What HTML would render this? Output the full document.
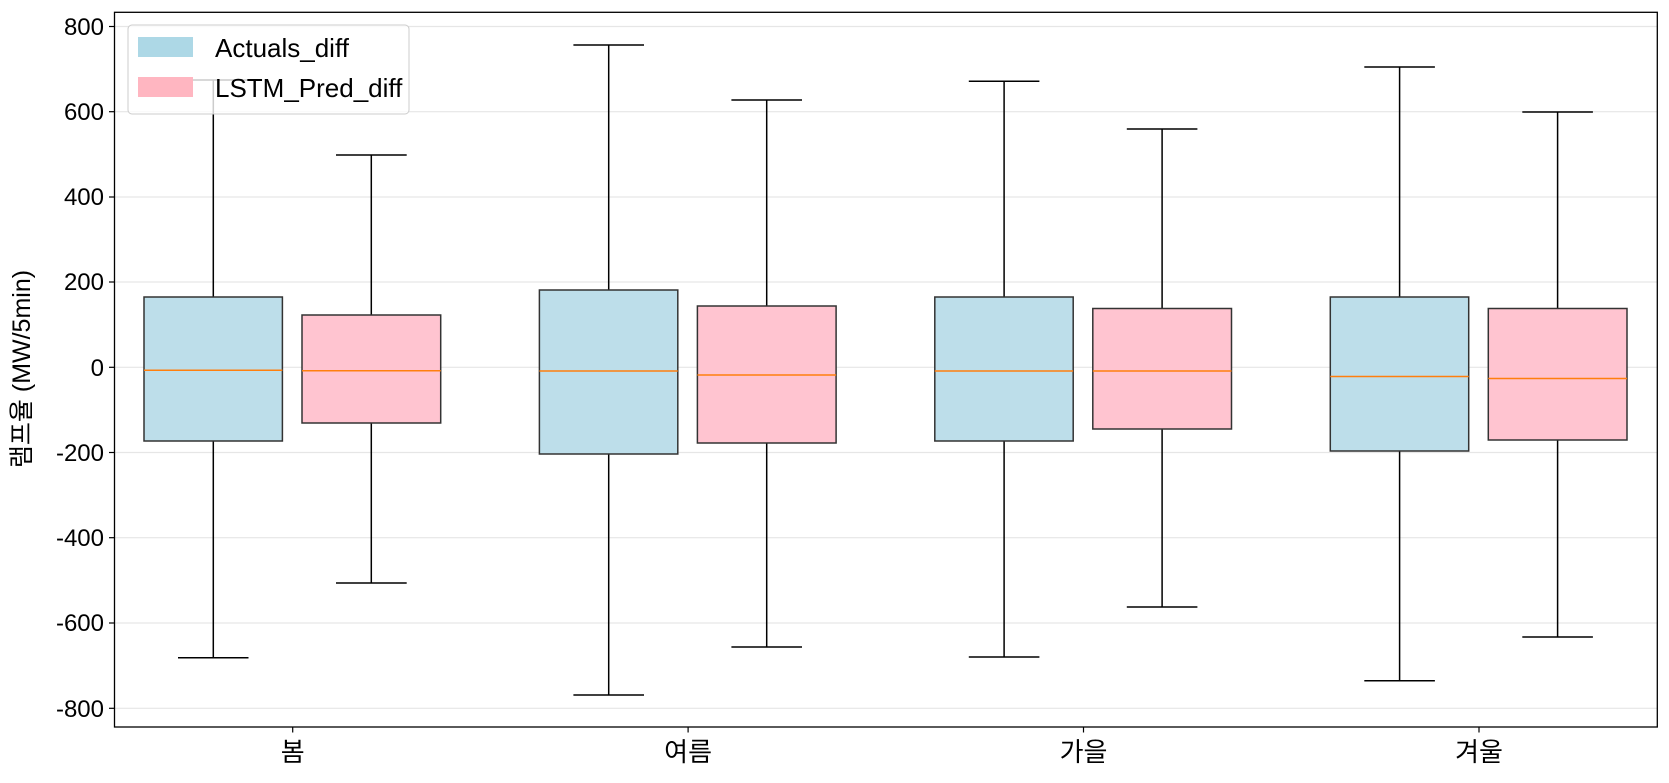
<!DOCTYPE html>
<html><head><meta charset="utf-8"><style>body{margin:0;background:#fff}</style></head><body>
<svg width="1669" height="778" xmlns="http://www.w3.org/2000/svg" font-family="'Liberation Sans','Noto Sans CJK KR',sans-serif">
<rect width="1669" height="778" fill="#fff"/>
<g stroke="#e6e6e6" stroke-width="1.2">
<line x1="115" x2="1657" y1="26.5" y2="26.5"/><line x1="115" x2="1657" y1="111.7" y2="111.7"/>
<line x1="115" x2="1657" y1="197" y2="197"/><line x1="115" x2="1657" y1="282" y2="282"/>
<line x1="115" x2="1657" y1="367.3" y2="367.3"/><line x1="115" x2="1657" y1="452.5" y2="452.5"/>
<line x1="115" x2="1657" y1="537.7" y2="537.7"/><line x1="115" x2="1657" y1="623" y2="623"/>
<line x1="115" x2="1657" y1="708.3" y2="708.3"/>
</g>
<g stroke="#000" stroke-width="1.5" fill="none">
<line x1="213.3" x2="213.3" y1="80" y2="297"/><line x1="213.3" x2="213.3" y1="441" y2="657.7"/>
<line x1="178" x2="248.5" y1="657.7" y2="657.7"/><line x1="178" x2="248.5" y1="80" y2="80"/>
<line x1="371.3" x2="371.3" y1="155" y2="315"/><line x1="371.3" x2="371.3" y1="423" y2="583"/>
<line x1="336" x2="406.7" y1="155" y2="155"/><line x1="336" x2="406.7" y1="583" y2="583"/>
<line x1="608.7" x2="608.7" y1="45" y2="290"/><line x1="608.7" x2="608.7" y1="454" y2="695"/>
<line x1="573.4" x2="644" y1="45" y2="45"/><line x1="573.4" x2="644" y1="695" y2="695"/>
<line x1="766.7" x2="766.7" y1="100" y2="306"/><line x1="766.7" x2="766.7" y1="443" y2="647"/>
<line x1="731.4" x2="802" y1="100" y2="100"/><line x1="731.4" x2="802" y1="647" y2="647"/>
<line x1="1004.1" x2="1004.1" y1="81.3" y2="297"/><line x1="1004.1" x2="1004.1" y1="441" y2="657"/>
<line x1="968.8" x2="1039.4" y1="81.3" y2="81.3"/><line x1="968.8" x2="1039.4" y1="657" y2="657"/>
<line x1="1162.1" x2="1162.1" y1="129" y2="308.5"/><line x1="1162.1" x2="1162.1" y1="429" y2="607"/>
<line x1="1126.8" x2="1197.4" y1="129" y2="129"/><line x1="1126.8" x2="1197.4" y1="607" y2="607"/>
<line x1="1399.6" x2="1399.6" y1="67" y2="297"/><line x1="1399.6" x2="1399.6" y1="451" y2="680.7"/>
<line x1="1364.3" x2="1434.9" y1="67" y2="67"/><line x1="1364.3" x2="1434.9" y1="680.7" y2="680.7"/>
<line x1="1557.6" x2="1557.6" y1="112" y2="308.5"/><line x1="1557.6" x2="1557.6" y1="440" y2="637"/>
<line x1="1522.3" x2="1592.9" y1="112" y2="112"/><line x1="1522.3" x2="1592.9" y1="637" y2="637"/>
</g>
<g stroke="#333" stroke-width="1.5">
<rect x="144" y="297" width="138.4" height="144" fill="#bddeea"/>
<rect x="302" y="315" width="138.7" height="108" fill="#ffc4d0"/>
<rect x="539.4" y="290" width="138.4" height="164" fill="#bddeea"/>
<rect x="697.4" y="306" width="138.7" height="137" fill="#ffc4d0"/>
<rect x="934.8" y="297" width="138.4" height="144" fill="#bddeea"/>
<rect x="1092.8" y="308.5" width="138.7" height="120.5" fill="#ffc4d0"/>
<rect x="1330.3" y="297" width="138.4" height="154" fill="#bddeea"/>
<rect x="1488.3" y="308.5" width="138.7" height="131.5" fill="#ffc4d0"/>
</g>
<g stroke="#ff7f0e" stroke-width="1.5">
<line x1="144" x2="282.4" y1="370.3" y2="370.3"/><line x1="302" x2="440.7" y1="370.7" y2="370.7"/>
<line x1="539.4" x2="677.8" y1="371" y2="371"/><line x1="697.4" x2="836.1" y1="375" y2="375"/>
<line x1="934.8" x2="1073.2" y1="371" y2="371"/><line x1="1092.8" x2="1231.5" y1="371" y2="371"/>
<line x1="1330.3" x2="1468.7" y1="376.5" y2="376.5"/><line x1="1488.3" x2="1627" y1="378.5" y2="378.5"/>
</g>
<rect x="114.5" y="12.3" width="1542.8" height="714.7" fill="none" stroke="#000" stroke-width="1.3"/>
<g stroke="#000" stroke-width="1.2">
<line x1="109" x2="114.5" y1="26.5" y2="26.5"/><line x1="109" x2="114.5" y1="111.7" y2="111.7"/>
<line x1="109" x2="114.5" y1="197" y2="197"/><line x1="109" x2="114.5" y1="282" y2="282"/>
<line x1="109" x2="114.5" y1="367.3" y2="367.3"/><line x1="109" x2="114.5" y1="452.5" y2="452.5"/>
<line x1="109" x2="114.5" y1="537.7" y2="537.7"/><line x1="109" x2="114.5" y1="623" y2="623"/>
<line x1="109" x2="114.5" y1="708.3" y2="708.3"/>
<line x1="292.7" x2="292.7" y1="727" y2="732.5"/><line x1="688.1" x2="688.1" y1="727" y2="732.5"/>
<line x1="1083.5" x2="1083.5" y1="727" y2="732.5"/><line x1="1479" x2="1479" y1="727" y2="732.5"/>
</g>
<g font-size="24" text-anchor="end" fill="#000">
<text x="104" y="35">800</text><text x="104" y="120">600</text><text x="104" y="205">400</text>
<text x="104" y="290">200</text><text x="104" y="376">0</text><text x="104" y="461">-200</text>
<text x="104" y="546">-400</text><text x="104" y="631">-600</text><text x="104" y="717">-800</text>
</g>
<g font-size="26" text-anchor="middle" fill="#000">
<text x="292.7" y="761">봄</text><text x="688.1" y="761">여름</text><text x="1083.5" y="761">가을</text><text x="1479" y="761">겨울</text>
</g>
<text transform="translate(30,369) rotate(-90)" font-size="25" text-anchor="middle">램프율 (MW/5min)</text>
<rect x="128" y="25" width="281" height="89" rx="4" fill="#fff" fill-opacity="0.8" stroke="#ccc"/>
<rect x="138" y="37" width="55" height="20" fill="#add8e6"/>
<rect x="138" y="77" width="55" height="20" fill="#ffb6c1"/>
<text x="215" y="57" font-size="26">Actuals_diff</text>
<text x="215" y="97" font-size="26">LSTM_Pred_diff</text>
</svg>
</body></html>
